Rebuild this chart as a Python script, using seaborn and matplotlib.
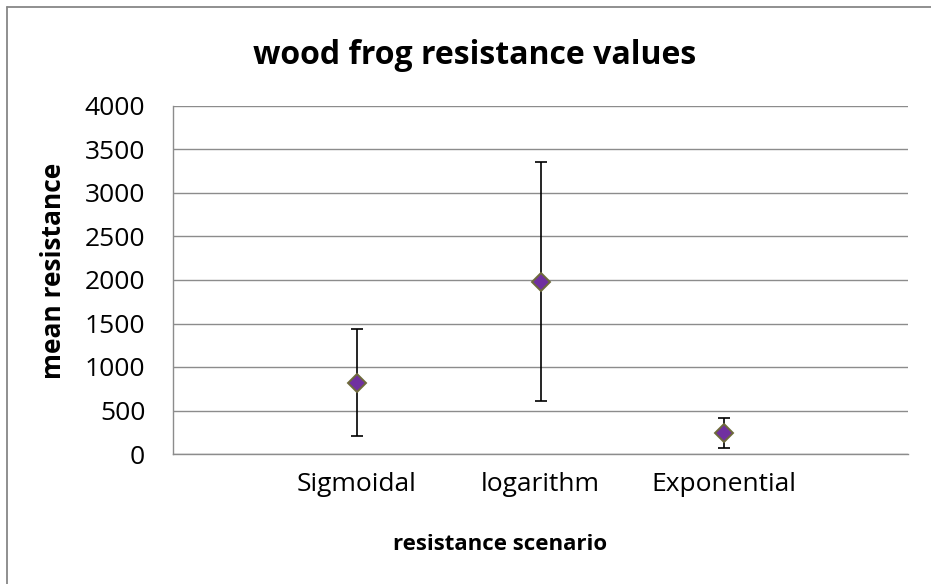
import matplotlib
matplotlib.use("Agg")
import matplotlib.pyplot as plt
import seaborn as sns

# data
scenarios = ["Sigmoidal", "logarithm", "Exponential"]
mean_resistance = [820, 1980, 240]
error_size = [615, 1375, 172]

sns.set_theme(style="white")
plt.rcParams["font.family"] = ["Open Sans", "DejaVu Sans"]
plt.rcParams["text.color"] = "black"

fig = plt.figure(figsize=(9.31, 5.84), dpi=100)
ax = fig.add_axes([173 / 931, 1 - 454 / 584, 735 / 931, 348 / 584])

# error bars first, markers on top
ax.errorbar(range(len(scenarios)), mean_resistance, yerr=error_size, fmt="none",
            ecolor="black", elinewidth=1.2, capsize=4.3, capthick=1.2, zorder=2)
sns.pointplot(x=scenarios, y=mean_resistance, errorbar=None, linestyle="none",
              markers="D", color="#7030A0", ax=ax,
              markersize=9.5, markeredgecolor="#6E6A3C", markeredgewidth=1.4, zorder=3)

ax.set_xlim(-1, 3)
ax.set_ylim(0, 4000)
ax.set_yticks(range(0, 4001, 500))
ax.grid(axis="y", color="#8C8C8C", linewidth=1.0)
ax.set_axisbelow(True)
for side in ["top", "right"]:
    ax.spines[side].set_visible(False)
for side in ["left", "bottom"]:
    ax.spines[side].set_color("#8C8C8C")
    ax.spines[side].set_linewidth(1.0)
ax.tick_params(axis="both", length=0, labelsize=19, colors="black")
ax.tick_params(axis="x", pad=13)
ax.tick_params(axis="y", pad=20)

ax.set_xlabel("")
ax.set_ylabel("")
fig.text(475 / 931, 1 - 55 / 584, "wood frog resistance values", ha="center", va="center",
         fontsize=23, fontweight="bold", color="black")
fig.text(500 / 931, 1 - 545 / 584, "resistance scenario", ha="center", va="center",
         fontsize=16, fontweight="bold", color="black")
fig.text(54 / 931, 1 - 271 / 584, "mean resistance", ha="center", va="center",
         rotation=90, fontsize=19, fontweight="bold", color="black")

# chart border (only left and top visible in the original)
fig.add_artist(plt.Line2D([7 / 931, 7 / 931], [0, 1 - 7 / 584], color="#878787", lw=1.3))
fig.add_artist(plt.Line2D([7 / 931, 1], [1 - 7 / 584, 1 - 7 / 584], color="#878787", lw=1.3))

fig.savefig("out.png", dpi=100)
